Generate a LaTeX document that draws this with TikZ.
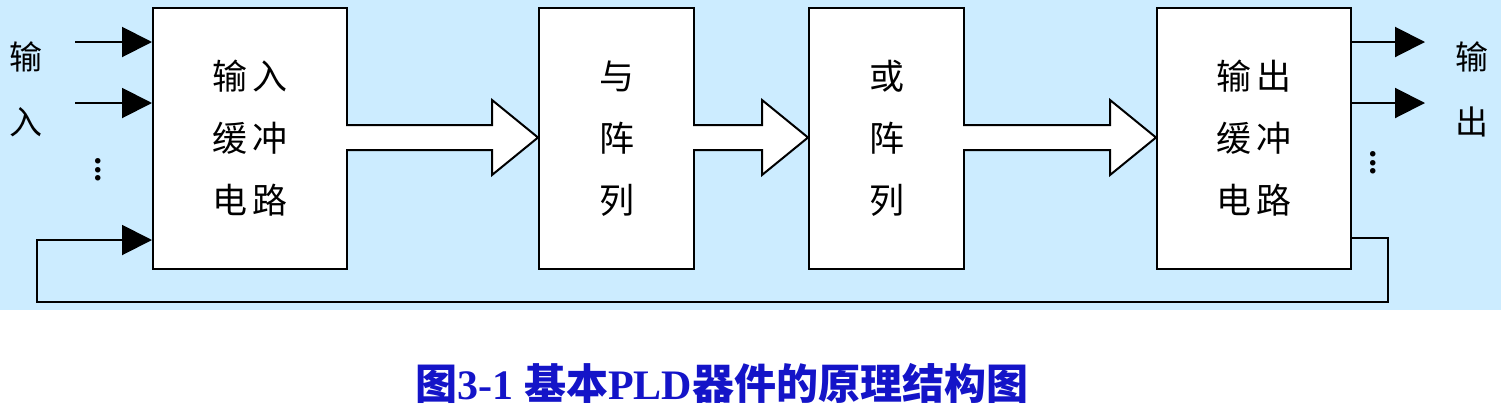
\documentclass[tikz,border=0pt]{standalone}
\usepackage{fontspec}
\setmainfont{Liberation Serif}
\newfontfamily\cjk{Noto Sans CJK SC}
\usetikzlibrary{arrows.meta}
\definecolor{bg}{RGB}{204,236,255}
\definecolor{cap}{RGB}{20,20,200}
\begin{document}
\begin{tikzpicture}[x=1pt,y=-1pt,line width=2pt,
  blk/.style={draw,fill=white,minimum width=#1,minimum height=261,anchor=north west,align=center,font=\cjk\fontsize{35}{62}\selectfont},
  sig/.style={-{Triangle[length=30,width=30]}},
  hollow/.style={draw,fill=white},
  lbl/.style={font=\cjk\fontsize{33}{33}\selectfont}]
\useasboundingbox (0,0) rectangle (1501,416);
\fill[bg] (0,0) rectangle (1501,310);
\node[blk=194] (b1) at (152,7) {输\,入\\缓\,冲\\电\,路};
\node[blk=155] (b2) at (538,7) {与\\阵\\列};
\node[blk=155] (b3) at (808,7) {或\\阵\\列};
\node[blk=194] (b4) at (1156,7) {输\,出\\缓\,冲\\电\,路};
\foreach \a/\b in {346/538,693/808,963/1156}{
  \draw[hollow] (\a,125) -- (\b-46,125) -- (\b-46,100) -- (\b,137.5) -- (\b-46,175) -- (\b-46,150) -- (\a,150) ;}
\coordinate (i1) at (75,42); \coordinate (i2) at (75,103);
\draw[sig] (i1) -- (b1.west|-i1);
\draw[sig] (i2) -- (b1.west|-i2);
\node[lbl] (il1) at (26,57) {输};
\node[lbl] (il2) at (26,122) {入};
\node[font=\bfseries\fontsize{34}{34}\selectfont] (d1) at (98,170) {\rotatebox{90}{...}};
\coordinate (o1) at (1425,42); \coordinate (o2) at (1425,103);
\draw[sig] (b4.east|-o1) -- (o1);
\draw[sig] (b4.east|-o2) -- (o2);
\node[lbl] (ol1) at (1472,57) {输};
\node[lbl] (ol2) at (1472,122) {出};
\node[font=\bfseries\fontsize{34}{34}\selectfont] (d2) at (1373,163) {\rotatebox{90}{...}};
\coordinate (f0) at (1350,238);
\draw[sig] (f0) -- (1388,238) -- (1388,302) -- (37,302) -- (37,240) -- (152,240);
\node[text=cap,font=\bfseries\fontsize{42}{42}\selectfont] (cp) at (722,383) {{\cjk 图}3-1 {\cjk 基本}PLD{\cjk 器件的原理结构图}};
\end{tikzpicture}
\end{document}
